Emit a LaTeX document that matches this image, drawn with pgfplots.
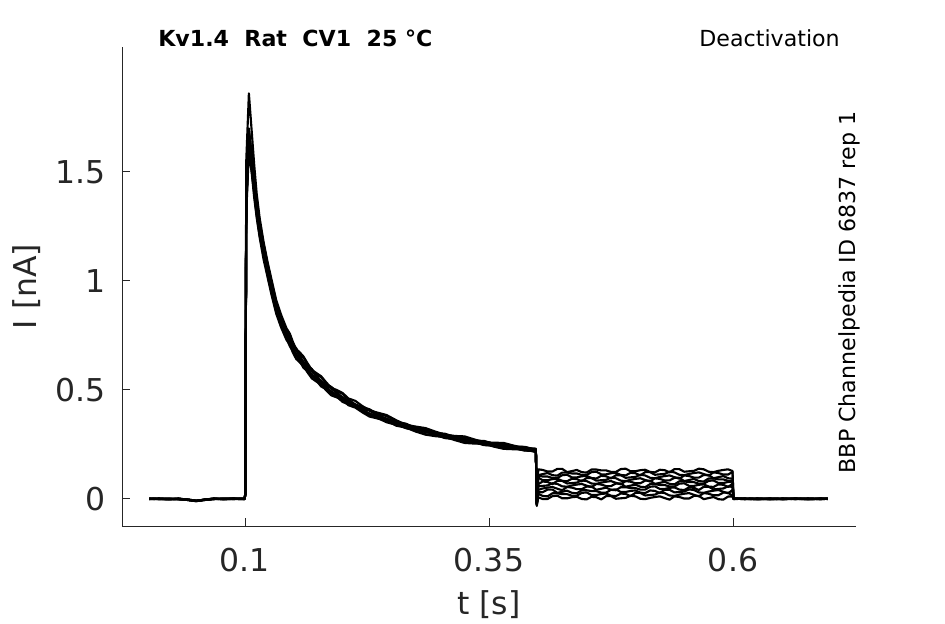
\documentclass[border=0pt]{standalone}
\usepackage{fontspec}
\setmainfont{DejaVu Sans}
\usepackage{pgfplots}
\usepackage{pgfplotstable}
\pgfplotsset{compat=1.18}
\definecolor{axiscol}{HTML}{262626}

\pgfplotstableread{
t a b c d e f g h i j
0.002 0.001 0.000 0.002 -0.001 0.001 0.000 0.002 -0.001 0.001 0.000
0.012 0.000 0.002 -0.001 0.001 0.000 0.002 0.000 0.001 -0.001 0.002
0.022 -0.002 0.000 0.001 -0.002 0.001 -0.001 0.000 0.001 0.000 -0.001
0.032 0.001 -0.001 0.000 0.002 -0.001 0.001 -0.002 0.000 0.002 0.000
0.042 -0.004 -0.003 -0.005 -0.004 -0.003 -0.005 -0.004 -0.003 -0.004 -0.005
0.050 -0.009 -0.008 -0.010 -0.009 -0.008 -0.010 -0.009 -0.008 -0.009 -0.010
0.058 -0.004 -0.005 -0.003 -0.004 -0.005 -0.003 -0.004 -0.005 -0.003 -0.004
0.068 0.001 0.000 0.002 0.001 -0.001 0.001 0.000 0.002 0.001 0.000
0.078 -0.001 0.001 0.000 -0.002 0.001 0.000 0.001 -0.001 0.000 0.001
0.088 0.002 0.000 0.001 0.001 0.002 -0.001 0.001 0.000 0.002 0.001
0.0995 0.000 0.001 -0.001 0.000 0.001 0.000 -0.001 0.001 0.000 0.001
0.1003 0.020 0.020 0.020 0.020 0.020 0.020 0.020 0.020 0.020 0.020
0.1013 1.55 1.40 1.38 1.36 1.35 1.33 1.39 1.31 1.36 1.37
0.1040 1.86 1.70 1.68 1.66 1.64 1.62 1.69 1.60 1.65 1.67
0.1070 1.68 1.57 1.53 1.55 1.52 1.50 1.58 1.49 1.56 1.53
0.1095 1.53 1.45 1.43 1.44 1.41 1.40 1.47 1.38 1.45 1.42
0.1120 1.40 1.36 1.33 1.34 1.31 1.30 1.37 1.29 1.35 1.32
0.1150 1.29 1.26 1.24 1.25 1.22 1.21 1.27 1.20 1.26 1.23
0.1190 1.18 1.16 1.14 1.15 1.13 1.12 1.17 1.10 1.16 1.13
0.1230 1.09 1.07 1.05 1.06 1.04 1.03 1.08 1.02 1.065 1.045
0.1270 1.01 0.99 0.97 0.98 0.96 0.95 1.00 0.94 0.985 0.965
0.1320 0.912 0.894 0.876 0.885 0.867 0.858 0.903 0.850 0.889 0.872
0.1370 0.845 0.828 0.812 0.820 0.804 0.795 0.836 0.787 0.824 0.808
0.1425 0.783 0.768 0.752 0.760 0.745 0.737 0.775 0.730 0.764 0.749
0.1460 0.758 0.728 0.730 0.720 0.719 0.700 0.750 0.707 0.723 0.724
0.1490 0.721 0.707 0.693 0.700 0.686 0.679 0.714 0.672 0.704 0.690
0.1525 0.687 0.691 0.661 0.683 0.656 0.664 0.681 0.642 0.686 0.658
0.1560 0.673 0.660 0.646 0.653 0.640 0.633 0.666 0.627 0.656 0.643
0.1600 0.653 0.625 0.629 0.620 0.623 0.601 0.648 0.609 0.622 0.626
0.1640 0.623 0.611 0.599 0.605 0.593 0.587 0.617 0.581 0.608 0.596
0.1685 0.592 0.596 0.568 0.591 0.563 0.573 0.586 0.553 0.593 0.565
0.1730 0.578 0.567 0.555 0.561 0.550 0.544 0.572 0.539 0.564 0.553
0.1780 0.563 0.537 0.542 0.531 0.535 0.516 0.558 0.525 0.535 0.539
0.1830 0.536 0.525 0.515 0.520 0.510 0.504 0.530 0.499 0.523 0.512
0.1885 0.509 0.514 0.489 0.509 0.484 0.494 0.504 0.475 0.512 0.486
0.1940 0.500 0.490 0.480 0.485 0.475 0.470 0.495 0.466 0.487 0.478
0.2000 0.486 0.463 0.468 0.458 0.463 0.445 0.482 0.453 0.460 0.465
0.2060 0.461 0.452 0.444 0.448 0.439 0.435 0.457 0.430 0.450 0.441
0.2130 0.450 0.430 0.434 0.425 0.426 0.426 0.433 0.419 0.429 0.431
0.2200 0.427 0.419 0.411 0.415 0.407 0.403 0.423 0.398 0.417 0.409
0.2275 0.406 0.410 0.391 0.405 0.385 0.392 0.411 0.378 0.408 0.389
0.2350 0.397 0.389 0.381 0.385 0.377 0.373 0.393 0.370 0.387 0.379
0.2450 0.385 0.367 0.369 0.360 0.365 0.352 0.380 0.359 0.363 0.366
0.2550 0.361 0.354 0.347 0.350 0.343 0.340 0.357 0.336 0.352 0.345
0.2650 0.340 0.345 0.328 0.343 0.325 0.332 0.337 0.327 0.343 0.325
0.2750 0.332 0.325 0.319 0.322 0.316 0.312 0.328 0.309 0.324 0.317
0.2850 0.325 0.308 0.315 0.306 0.311 0.297 0.322 0.295 0.308 0.313
0.2950 0.309 0.303 0.297 0.300 0.294 0.291 0.306 0.288 0.302 0.296
0.3050 0.295 0.299 0.281 0.295 0.279 0.288 0.291 0.284 0.295 0.281
0.3150 0.289 0.284 0.278 0.281 0.275 0.273 0.287 0.270 0.282 0.277
0.3250 0.287 0.271 0.275 0.267 0.275 0.261 0.284 0.257 0.268 0.274
0.3350 0.273 0.268 0.262 0.265 0.260 0.257 0.270 0.254 0.266 0.261
0.3450 0.260 0.266 0.251 0.264 0.247 0.255 0.259 0.253 0.264 0.248
0.3550 0.258 0.253 0.248 0.250 0.245 0.243 0.255 0.240 0.251 0.246
0.3650 0.257 0.241 0.248 0.239 0.245 0.232 0.254 0.230 0.240 0.246
0.3750 0.245 0.240 0.236 0.238 0.233 0.231 0.243 0.228 0.239 0.234
0.3865 0.233 0.239 0.224 0.237 0.222 0.230 0.230 0.227 0.238 0.223
0.3980 0.231 0.226 0.222 0.224 0.220 0.217 0.228 0.215 0.225 0.221
0.3990 -0.020 -0.025 -0.030 -0.022 -0.028 -0.018 -0.032 -0.024 -0.027 -0.021
0.4005 0.136 0.109 0.107 0.098 0.068 0.058 0.042 0.031 0.024 0.007
0.4050 0.133 0.114 0.103 0.086 0.080 0.060 0.048 0.031 0.014 0.000
0.4100 0.126 0.119 0.103 0.086 0.078 0.062 0.052 0.043 0.012 0.000
0.4150 0.126 0.109 0.096 0.091 0.068 0.072 0.055 0.043 0.026 0.013
0.4200 0.138 0.107 0.096 0.093 0.083 0.069 0.047 0.028 0.026 0.015
0.4250 0.138 0.121 0.109 0.083 0.083 0.058 0.040 0.033 0.022 0.003
0.4300 0.123 0.121 0.111 0.081 0.071 0.056 0.055 0.038 0.022 0.003
0.4350 0.128 0.117 0.099 0.093 0.073 0.062 0.052 0.028 0.015 0.008
0.4400 0.133 0.117 0.099 0.091 0.075 0.066 0.045 0.026 0.015 0.010
0.4450 0.123 0.110 0.104 0.081 0.085 0.069 0.045 0.040 0.028 0.000
0.4500 0.121 0.110 0.106 0.096 0.082 0.061 0.057 0.040 0.030 -0.002
0.4550 0.135 0.123 0.096 0.096 0.071 0.054 0.057 0.036 0.018 0.010
0.4600 0.135 0.125 0.094 0.084 0.069 0.069 0.042 0.036 0.018 0.008
0.4650 0.131 0.113 0.106 0.086 0.075 0.066 0.047 0.029 0.023 -0.002
0.4700 0.131 0.113 0.104 0.088 0.079 0.059 0.052 0.029 0.025 0.013
0.4750 0.124 0.118 0.094 0.098 0.082 0.059 0.042 0.042 0.015 0.013
0.4800 0.124 0.120 0.109 0.095 0.074 0.071 0.040 0.044 0.013 0.001
0.4850 0.137 0.110 0.109 0.084 0.067 0.071 0.054 0.032 0.025 0.003
0.4900 0.139 0.108 0.097 0.082 0.082 0.056 0.054 0.032 0.023 0.005
0.4950 0.127 0.120 0.099 0.088 0.079 0.061 0.050 0.037 0.013 0.015
0.5000 0.127 0.118 0.101 0.092 0.072 0.066 0.050 0.039 0.028 0.012
0.5050 0.132 0.108 0.111 0.095 0.072 0.056 0.043 0.029 0.028 0.001
0.5100 0.134 0.123 0.108 0.087 0.084 0.054 0.043 0.027 0.016 -0.001
0.5150 0.124 0.123 0.097 0.080 0.084 0.068 0.056 0.039 0.018 0.005
0.5200 0.122 0.111 0.095 0.095 0.069 0.068 0.058 0.037 0.020 0.009
0.5250 0.134 0.113 0.101 0.092 0.074 0.064 0.046 0.027 0.030 0.012
0.5300 0.132 0.115 0.105 0.085 0.079 0.064 0.046 0.042 0.027 0.004
0.5350 0.122 0.125 0.108 0.085 0.069 0.057 0.051 0.042 0.016 -0.003
0.5400 0.137 0.122 0.100 0.097 0.067 0.057 0.053 0.030 0.014 0.012
0.5450 0.137 0.111 0.093 0.097 0.081 0.070 0.043 0.032 0.020 0.009
0.5500 0.125 0.109 0.108 0.082 0.081 0.072 0.041 0.034 0.024 0.002
0.5550 0.127 0.115 0.105 0.087 0.077 0.060 0.053 0.044 0.027 0.002
0.5600 0.129 0.119 0.098 0.092 0.077 0.060 0.051 0.041 0.019 0.014
0.5650 0.139 0.122 0.098 0.082 0.070 0.065 0.041 0.030 0.012 0.014
0.5700 0.136 0.114 0.110 0.080 0.070 0.067 0.056 0.028 0.027 -0.001
0.5750 0.125 0.107 0.110 0.094 0.083 0.057 0.056 0.034 0.024 0.004
0.5800 0.123 0.122 0.095 0.094 0.085 0.055 0.044 0.038 0.017 0.009
0.5850 0.129 0.119 0.100 0.090 0.073 0.067 0.046 0.041 0.017 -0.001
0.5900 0.133 0.112 0.105 0.090 0.073 0.065 0.048 0.033 0.029 -0.003
0.5950 0.136 0.112 0.095 0.083 0.078 0.055 0.058 0.026 0.029 0.011
0.5995 0.128 0.124 0.093 0.083 0.080 0.070 0.055 0.041 0.014 0.011
0.6005 0.003 0.001 0.002 0.000 0.003 0.001 0.002 -0.001 0.002 0.000
0.612 0.000 0.002 -0.001 0.002 0.000 0.001 -0.001 0.002 0.000 0.001
0.625 0.002 -0.001 0.001 0.000 0.002 -0.002 0.001 0.000 0.002 -0.001
0.638 -0.001 0.001 0.002 -0.001 0.000 0.002 0.000 0.001 -0.002 0.002
0.651 0.001 0.000 -0.002 0.001 0.002 0.000 0.002 -0.001 0.001 0.000
0.664 0.000 0.002 0.001 0.002 -0.001 0.001 0.000 0.002 0.000 0.001
0.677 0.002 -0.001 0.000 0.001 0.001 -0.001 0.002 0.000 0.001 -0.002
0.690 -0.001 0.001 0.002 0.000 0.000 0.002 -0.001 0.001 0.002 0.000
0.697 0.001 0.000 0.001 0.001 0.002 0.000 0.001 0.000 0.001 0.001
}\traces

\begin{document}
\begin{tikzpicture}
\begin{axis}[
  scale only axis,
  width=550.5pt, height=359.25pt,
  xmin=-0.026, xmax=0.726,
  ymin=-0.124, ymax=2.073,
  axis x line*=bottom, axis y line*=left,
  axis line style={-, draw=axiscol, line width=0.7pt},
  xtick={0.1,0.35,0.6},
  xticklabels={0.1,0.35,0.6},
  ytick={0,0.5,1,1.5},
  yticklabels={0,0.5,1,1.5},
  tick align=inside,
  major tick length=6pt,
  tick style={draw=axiscol, line width=0.7pt},
  minor tick num=0,
  /pgf/number format/assume math mode=true,
  ticklabel style={font=\fontsize{23.6}{28}\selectfont, text=axiscol, inner sep=0pt},
  xticklabel style={anchor=north, yshift=-16.5pt},
  yticklabel style={anchor=east, xshift=-12pt},
  clip=false,
]
\pgfplotsinvokeforeach{a,b,c,d,e,f,g,h,i,j}{
  \addplot[black, line width=1.6pt, line join=round] table[x=t, y=#1] {\traces};
}
\node[anchor=base west, inner sep=0pt, font=\fontsize{16.6}{20}\selectfont\bfseries]
  at (rel axis cs:0,1) [xshift=27pt] {Kv1.4\ \ Rat\ \ CV1\ \ 25 °C};
\node[anchor=base east, inner sep=0pt, font=\fontsize{16.6}{20}\selectfont]
  at (rel axis cs:1,1) [xshift=-12pt] {Deactivation};
\node[xshift=-0.75pt, anchor=base, rotate=90, inner sep=0pt, font=\fontsize{16.6}{20}\selectfont]
  at (rel axis cs:1,0.4875) {BBP Channelpedia ID 6837 rep 1};
\node[anchor=base, inner sep=0pt, text=axiscol, font=\fontsize{23.6}{28}\selectfont]
  at (rel axis cs:0.5,0) [yshift=-66pt] {t [s]};
\node[xshift=-63.75pt, anchor=base, rotate=90, inner sep=0pt, text=axiscol, font=\fontsize{23.6}{28}\selectfont]
  at (rel axis cs:0,0.5) {I [nA]};
\end{axis}
\pgfresetboundingbox
\useasboundingbox (-91.5pt,-73.5pt) rectangle (617.25pt,394.5pt);
\end{tikzpicture}
\end{document}
